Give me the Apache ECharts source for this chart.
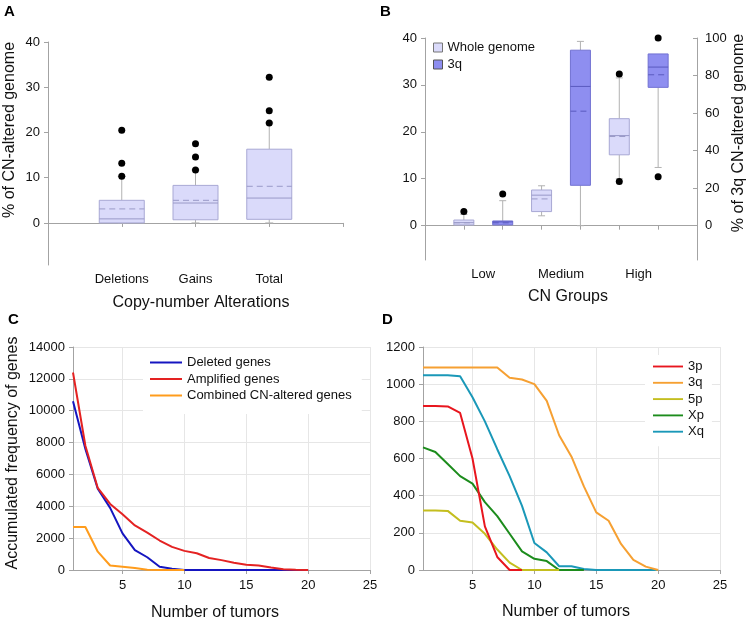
<!DOCTYPE html>
<html>
<head>
<meta charset="utf-8">
<script src="https://cdn.jsdelivr.net/npm/echarts@6/dist/echarts.min.js"></script>
<style>
html, body { margin: 0; background: #fff; }
#main { width: 751px; height: 621px; }
</style>
</head>
<body>
<div id="main"></div>
<script>
// Panel A: box stats per category -> [whiskerLow, q1, median, q3, whiskerHigh, mean]
const alterCats = ['Deletions', 'Gains', 'Total'];
const alterBoxes = [
    [0, 0, 0.9, 5.0, 10.3, 3.1],
    [0, 0.7, 4.4, 8.3, 11.7, 5.0],
    [0, 0.8, 5.5, 16.3, 22.1, 8.1]
];
const alterOutliers = [[20.5, 13.2, 10.3], [17.5, 14.6, 11.7], [32.2, 24.8, 22.1]];
const pctTicksA = [0, 10, 20, 30, 40];

// Panel B: whole genome (left axis) and 3q (right axis)
const cnGroups = ['Low', 'Medium', 'High'];
const wholeBoxes = [
    [0.15, 0.15, 0.64, 1.2, 2.4, 0.6],
    [2.1, 3.0, 6.5, 7.6, 8.5, 5.7],
    [10, 15.1, 19.2, 22.8, 31.5, 19.0]
];
const wholeOutliers = [[3.0], [], [32.3, 9.4]];
const q3Boxes = [
    [0.4, 0.4, 2.0, 2.5, 13.3, 1.5],
    [0, 21.5, 74.2, 93.5, 98.2, 61.0],
    [31, 73.7, 84.5, 91.5, 91.5, 80.4]
];
const q3Outliers = [[16.9], [], [100, 26]];
const leftTicksB = [0, 10, 20, 30, 40];
const rightTicksB = [0, 20, 40, 60, 80, 100];

// Panel C: accumulated frequency, tumors 1..n
const deletedGenes = [10600, 7600, 5100, 3900, 2300, 1250, 800, 200, 80, 0, 0, 0, 0, 0, 0, 0, 0, 0, 0, 0];
const amplifiedGenes = [12400, 7800, 5150, 4150, 3500, 2800, 2350, 1850, 1450, 1200, 1050, 750, 620, 450, 330, 280, 150, 50, 20, 0];
const combinedGenes = [2700, 2700, 1150, 280, 200, 120, 20, 0, 0, 0];

// Panel D
const armNames = ['3p', '3q', '5p', 'Xp', 'Xq'];
const arm3p = [882, 882, 880, 845, 600, 235, 70, 0, 0];
const arm3q = [1090, 1090, 1090, 1090, 1090, 1090, 1090, 1035, 1025, 1000, 910, 725, 610, 450, 310, 265, 140, 55, 18, 0];
const arm5p = [320, 320, 318, 265, 255, 195, 110, 40, 0, 0, 0, 0];
const armXp = [660, 635, 570, 505, 465, 365, 290, 195, 100, 60, 48, 0, 0, 0];
const armXq = [1048, 1048, 1048, 1042, 930, 800, 650, 505, 345, 145, 95, 20, 20, 5, 0, 0, 0, 0, 0, 0];
const tumorTicks = [5, 10, 15, 20, 25];

const FONT = '"Liberation Sans", Arial, sans-serif';
const AXIS_GRAY = '#a3a3a3';
const TXT = '#111';
const LINE_ICON = 'path://M0,0H32V2H0Z';

const LIGHT = { fill: '#dadafa', stroke: '#a8a8d4', mid: '#9a9ac8' };
const DARK = { fill: '#8e8ef0', stroke: '#7272d2', mid: '#5a5abf' };
const ARM_COLORS = { '3p': '#e8161e', '3q': '#f6a032', '5p': '#c4be1e', 'Xp': '#1c8c1c', 'Xq': '#1a98b8' };

function toSeries(arr) {
    return arr.map((v, i) => [i + 1, v]);
}

function boxData(boxes, xs) {
    return boxes.map((b, i) => [xs[i]].concat(b));
}

function outlierData(lists, xs) {
    const out = [];
    lists.forEach((vals, i) => vals.forEach(v => out.push([xs[i], v])));
    return out;
}

// draws a box with whiskers, caps, solid median and dashed mean
function boxRenderer(boxW, capW, c) {
    return function (params, api) {
        const x = api.value(0);
        const y = v => api.coord([x, v])[1];
        const cx = api.coord([x, 0])[0];
        const lo = y(api.value(1)), q1 = y(api.value(2)), med = y(api.value(3));
        const q3 = y(api.value(4)), hi = y(api.value(5)), mean = y(api.value(6));
        const h = boxW / 2, ch = capW / 2;
        const wh = { stroke: '#b2b2b2', lineWidth: 1 };
        const kids = [];
        if (hi < q3) {
            kids.push({ type: 'line', shape: { x1: cx, y1: q3, x2: cx, y2: hi }, style: wh });
            kids.push({ type: 'line', shape: { x1: cx - ch, y1: hi, x2: cx + ch, y2: hi }, style: wh });
        }
        kids.push({ type: 'line', shape: { x1: cx, y1: q1, x2: cx, y2: lo }, style: wh });
        kids.push({ type: 'line', shape: { x1: cx - ch, y1: lo, x2: cx + ch, y2: lo }, style: wh });
        kids.push({ type: 'rect', shape: { x: cx - h, y: q3, width: boxW, height: Math.max(q1 - q3, 1) },
            style: { fill: c.fill, stroke: c.stroke, lineWidth: 1 } });
        kids.push({ type: 'line', shape: { x1: cx - h, y1: med, x2: cx + h, y2: med },
            style: { stroke: c.mid, lineWidth: 1 } });
        kids.push({ type: 'line', shape: { x1: cx - h, y1: mean, x2: cx + h, y2: mean },
            style: { stroke: c.mid, lineWidth: 1, lineDash: [6, 4] } });
        return { type: 'group', children: kids };
    };
}

function baseAxis(extra) {
    return Object.assign({
        type: 'value',
        axisLine: { show: true, lineStyle: { color: AXIS_GRAY } },
        axisTick: { show: true, length: 4, lineStyle: { color: AXIS_GRAY } },
        axisLabel: { color: TXT, fontSize: 13, fontFamily: FONT, margin: 8, formatter: v => String(v) },
        splitLine: { show: false }
    }, extra);
}

function lineSeries(name, data, color, xi, yi) {
    return {
        name: name, type: 'line', xAxisIndex: xi, yAxisIndex: yi,
        data: toSeries(data), symbol: 'none', showSymbol: false,
        lineStyle: { width: 2, color: color }, itemStyle: { color: color }
    };
}

const xsA = [1, 2, 3];
const xsWhole = [1, 3, 5];
const xs3q = [2, 4, 6];
const groupLabelPos = cnGroups.map((g, i) => i * 2 + 1.5);

const chart = echarts.init(document.getElementById('main'), null, { renderer: 'canvas' });

const option = {
    backgroundColor: '#fff',
    animation: false,
    textStyle: { fontFamily: FONT },
    grid: [
        { left: 48, top: 42, width: 295, height: 223 },
        { left: 425, top: 38, width: 272, height: 222 },
        { left: 73, top: 347, width: 297, height: 223 },
        { left: 423, top: 347, width: 297, height: 223 }
    ],
    xAxis: [
        baseAxis({
            gridIndex: 0, min: 0, max: 4, interval: 1,
            axisLabel: { color: TXT, fontSize: 13, fontFamily: FONT, margin: 8,
                formatter: v => alterCats[v - 1] || '' }
        }),
        baseAxis({
            gridIndex: 1, min: 0, max: 7, interval: 1,
            axisLabel: { color: TXT, fontSize: 13, fontFamily: FONT, margin: 8,
                customValues: groupLabelPos,
                formatter: v => cnGroups[(v - 1.5) / 2] || '' }
        }),
        baseAxis({
            gridIndex: 2, min: 1, max: 25,
            axisTick: { show: true, length: 4, lineStyle: { color: AXIS_GRAY }, customValues: tumorTicks },
            axisLabel: { color: TXT, fontSize: 13, fontFamily: FONT, margin: 9, customValues: tumorTicks },
            splitLine: { show: true, lineStyle: { color: '#e6e6e6' } }
        }),
        baseAxis({
            gridIndex: 3, min: 1, max: 25,
            axisTick: { show: true, length: 4, lineStyle: { color: AXIS_GRAY }, customValues: tumorTicks },
            axisLabel: { color: TXT, fontSize: 13, fontFamily: FONT, margin: 9, customValues: tumorTicks },
            splitLine: { show: true, lineStyle: { color: '#e6e6e6' } }
        })
    ],
    yAxis: [
        baseAxis({
            gridIndex: 0, min: -9.3, max: 40,
            axisTick: { show: true, length: 4, lineStyle: { color: AXIS_GRAY }, customValues: pctTicksA },
            axisLabel: { color: TXT, fontSize: 13, fontFamily: FONT, margin: 8, customValues: pctTicksA }
        }),
        baseAxis({
            gridIndex: 1, min: -7.32, max: 40,
            axisTick: { show: true, length: 4, lineStyle: { color: AXIS_GRAY }, customValues: leftTicksB },
            axisLabel: { color: TXT, fontSize: 13, fontFamily: FONT, margin: 8, customValues: leftTicksB }
        }),
        baseAxis({
            gridIndex: 1, min: -18.3, max: 100, position: 'right',
            axisTick: { show: true, inside: true, length: 4, lineStyle: { color: AXIS_GRAY }, customValues: rightTicksB },
            axisLabel: { color: TXT, fontSize: 13, fontFamily: FONT, margin: 8, customValues: rightTicksB }
        }),
        baseAxis({
            gridIndex: 2, min: 0, max: 14000, interval: 2000,
            splitLine: { show: true, lineStyle: { color: '#e6e6e6' } }
        }),
        baseAxis({
            gridIndex: 3, min: 0, max: 1200, interval: 200,
            splitLine: { show: true, lineStyle: { color: '#e6e6e6' } }
        })
    ],
    legend: [
        {
            orient: 'vertical', left: 426, top: 37, padding: [4, 4, 4, 7],
            icon: 'rect', itemWidth: 9, itemHeight: 9, itemGap: 4,
            textStyle: { color: TXT, fontSize: 13, fontFamily: FONT },
            data: [
                { name: 'Whole genome', itemStyle: { color: LIGHT.fill, borderColor: '#777', borderWidth: 1 } },
                { name: '3q', itemStyle: { color: DARK.fill, borderColor: '#555', borderWidth: 1 } }
            ]
        },
        {
            orient: 'vertical', left: 143, top: 348, padding: [8, 10, 12, 7],
            backgroundColor: '#fff', itemWidth: 32, itemHeight: 2, itemGap: 3.5,
            icon: LINE_ICON,
            textStyle: { color: TXT, fontSize: 13, fontFamily: FONT },
            data: ['Deleted genes', 'Amplified genes', 'Combined CN-altered genes']
        },
        {
            orient: 'vertical', left: 645, top: 355, padding: [5, 8, 8, 8],
            backgroundColor: '#fff', itemWidth: 30, itemHeight: 2, itemGap: 3.3,
            icon: LINE_ICON,
            textStyle: { color: TXT, fontSize: 13, fontFamily: FONT },
            data: armNames.map(n => ({ name: n, itemStyle: { color: ARM_COLORS[n], borderWidth: 0 } }))
        }
    ],
    series: [
        {
            type: 'custom', name: 'alterations', xAxisIndex: 0, yAxisIndex: 0,
            renderItem: boxRenderer(45, 8, LIGHT),
            encode: { x: 0, y: [1, 2, 3, 4, 5, 6] },
            data: boxData(alterBoxes, xsA)
        },
        {
            type: 'scatter', name: 'alterOut', xAxisIndex: 0, yAxisIndex: 0,
            symbolSize: 7, itemStyle: { color: '#000', opacity: 1 },
            data: outlierData(alterOutliers, xsA)
        },
        {
            type: 'custom', name: 'Whole genome', xAxisIndex: 1, yAxisIndex: 1,
            renderItem: boxRenderer(20, 7, LIGHT),
            itemStyle: { color: LIGHT.fill },
            encode: { x: 0, y: [1, 2, 3, 4, 5, 6] },
            data: boxData(wholeBoxes, xsWhole)
        },
        {
            type: 'custom', name: '3q', xAxisIndex: 1, yAxisIndex: 2,
            renderItem: boxRenderer(20, 7, DARK),
            itemStyle: { color: DARK.fill },
            encode: { x: 0, y: [1, 2, 3, 4, 5, 6] },
            data: boxData(q3Boxes, xs3q)
        },
        {
            type: 'scatter', name: 'wholeOut', xAxisIndex: 1, yAxisIndex: 1,
            symbolSize: 7, itemStyle: { color: '#000', opacity: 1 },
            data: outlierData(wholeOutliers, xsWhole)
        },
        {
            type: 'scatter', name: 'q3Out', xAxisIndex: 1, yAxisIndex: 2,
            symbolSize: 7, itemStyle: { color: '#000', opacity: 1 }, clip: false,
            data: outlierData(q3Outliers, xs3q)
        },
        lineSeries('Deleted genes', deletedGenes, '#1515c0', 2, 3),
        lineSeries('Combined CN-altered genes', combinedGenes, '#ff9c1c', 2, 3),
        lineSeries('Amplified genes', amplifiedGenes, '#e42222', 2, 3),
        lineSeries('Xq', armXq, ARM_COLORS['Xq'], 3, 4),
        lineSeries('Xp', armXp, ARM_COLORS['Xp'], 3, 4),
        lineSeries('5p', arm5p, ARM_COLORS['5p'], 3, 4),
        lineSeries('3p', arm3p, ARM_COLORS['3p'], 3, 4),
        lineSeries('3q', arm3q, ARM_COLORS['3q'], 3, 4)
    ],
    graphic: [
        { type: 'text', x: 4, y: 4, style: { text: 'A', font: 'bold 15px ' + FONT, fill: '#000' } },
        { type: 'text', x: 380, y: 4, style: { text: 'B', font: 'bold 15px ' + FONT, fill: '#000' } },
        { type: 'text', x: 8, y: 312, style: { text: 'C', font: 'bold 15px ' + FONT, fill: '#000' } },
        { type: 'text', x: 382, y: 312, style: { text: 'D', font: 'bold 15px ' + FONT, fill: '#000' } },
        { type: 'text', x: 10, y: 130, rotation: Math.PI / 2,
            style: { text: '% of CN-altered genome', font: '16px ' + FONT, fill: TXT, textAlign: 'center', textVerticalAlign: 'middle' } },
        { type: 'text', x: 201, y: 303,
            style: { text: 'Copy-number Alterations', font: '16px ' + FONT, fill: TXT, textAlign: 'center', textVerticalAlign: 'middle' } },
        { type: 'text', x: 568, y: 297,
            style: { text: 'CN Groups', font: '16px ' + FONT, fill: TXT, textAlign: 'center', textVerticalAlign: 'middle' } },
        { type: 'text', x: 739, y: 133, rotation: Math.PI / 2,
            style: { text: '% of 3q CN-altered genome', font: '16px ' + FONT, fill: TXT, textAlign: 'center', textVerticalAlign: 'middle' } },
        { type: 'text', x: 13, y: 453, rotation: Math.PI / 2,
            style: { text: 'Accumulated frequency of genes', font: '16px ' + FONT, fill: TXT, textAlign: 'center', textVerticalAlign: 'middle' } },
        { type: 'text', x: 215, y: 613,
            style: { text: 'Number of tumors', font: '16px ' + FONT, fill: TXT, textAlign: 'center', textVerticalAlign: 'middle' } },
        { type: 'text', x: 566, y: 612,
            style: { text: 'Number of tumors', font: '16px ' + FONT, fill: TXT, textAlign: 'center', textVerticalAlign: 'middle' } }
    ]
};

chart.setOption(option);
</script>
</body>
</html>
